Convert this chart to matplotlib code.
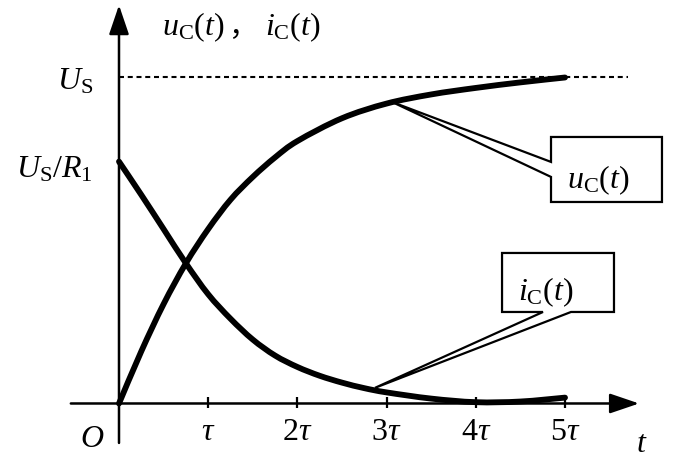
import numpy as np
import matplotlib
matplotlib.use("Agg")
import matplotlib.pyplot as plt
from matplotlib.patches import Polygon, PathPatch
from matplotlib.path import Path

plt.rcParams['font.family'] = ['Liberation Serif', 'Noto Sans CJK SC']
plt.rcParams['mathtext.fontset'] = 'custom'
plt.rcParams['mathtext.rm'] = 'Liberation Serif'
plt.rcParams['mathtext.it'] = 'Liberation Serif:italic'
plt.rcParams['mathtext.bf'] = 'Liberation Serif:bold'

# values (t in units of tau, y in units of U_S)
t_uc = [0, 0.25, 0.5, 0.75, 1.0, 1.25, 1.5, 1.75, 2.0, 2.5, 3.0, 3.5, 4.0, 4.5, 5.0]
uc = [0, 0.16, 0.305, 0.43, 0.535, 0.625, 0.695, 0.755, 0.805, 0.875, 0.92, 0.948,
      0.968, 0.985, 1.0]

t_ic = [0, 0.25, 0.5, 0.75, 1.0, 1.25, 1.5, 1.75, 2.0, 2.25, 2.5, 2.75, 3.0, 3.5,
        4.0, 4.5, 5.0]
ic = [0.742, 0.64, 0.535, 0.43, 0.335, 0.26, 0.196, 0.147, 0.112, 0.085, 0.064,
      0.047, 0.034, 0.015, 0.004, 0.006, 0.018]

tick_pos = [1, 2, 3, 4, 5]
tick_labels = [r'$\tau$', r'$2\tau$', r'$3\tau$', r'$4\tau$', r'$5\tau$']

fs = 23


def smooth_path(xs, ys):
    # Catmull-Rom through the read points, drawn as cubic Bezier segments
    p = np.column_stack([xs, ys]).astype(float)
    verts = [p[0]]
    codes = [Path.MOVETO]
    n = len(p)
    for i in range(n - 1):
        p0 = p[i - 1] if i > 0 else p[i]
        p3 = p[i + 2] if i + 2 < n else p[i + 1]
        c1 = p[i] + (p[i + 1] - p0) / 6
        c2 = p[i + 1] - (p3 - p[i]) / 6
        verts += [c1, c2, p[i + 1]]
        codes += [Path.CURVE4] * 3
    return Path(verts, codes)


fig = plt.figure(figsize=(6.75, 4.65), dpi=100)
ax = fig.add_axes([0, 0, 1, 1])
ax.set_xlim(-1.334, 6.233)
ax.set_ylim(-0.1887, 1.2377)
ax.axis('off')

# axes with arrows
arrow = dict(arrowstyle='-|>,head_length=1.0,head_width=0.34', mutation_scale=18,
             lw=1.8, color='black', shrinkA=0, shrinkB=0)
ax.annotate('', xy=(5.83, 0), xytext=(-0.54, 0), arrowprops=arrow)
ax.annotate('', xy=(0, 1.222), xytext=(0, -0.121), arrowprops=arrow)

# ticks and labels
ax.vlines(tick_pos, -0.014, 0.02, color='black', lw=1.6)
for p, lab in zip(tick_pos, tick_labels):
    ax.text(p, -0.112, lab, fontsize=fs, ha='center', va='baseline')
ax.text(-0.30, -0.133, r'$O$', fontsize=fs, ha='center', va='baseline')
ax.text(5.86, -0.149, r'$t$', fontsize=fs, ha='center', va='baseline')

# U_S level
ax.plot([0, 5.71], [1, 1], color='black', lw=1.5, linestyle=(0, (2.4, 1.8)))
ax.text(-0.29, 0.962, r'$U_{\mathrm{S}}$', fontsize=fs, ha='right', va='baseline')
ax.text(-0.29, 0.692, r'$U_{\mathrm{S}}/R_1$', fontsize=fs, ha='right', va='baseline')

# title
ax.text(0.482, 1.13, r'$u_{\mathrm{C}}(t)$', fontsize=fs, ha='left', va='baseline')
ax.text(1.22, 1.13, '，', fontsize=fs - 2, ha='left', va='baseline',
        family=['Noto Sans CJK SC', 'DejaVu Sans'])
ax.text(1.637, 1.13, r'$i_{\mathrm{C}}(t)$', fontsize=fs, ha='left', va='baseline')

# curves
for xs, ys in [(t_uc, uc), (t_ic, ic)]:
    ax.add_patch(PathPatch(smooth_path(xs, ys), facecolor='none', edgecolor='black',
                           lw=4.2, capstyle='round', zorder=2))

# callouts
uc_box = [(4.843, 0.8175), (6.087, 0.8175), (6.087, 0.6181), (4.843, 0.6181),
          (4.843, 0.695), (3.06, 0.925), (4.843, 0.741)]
ax.add_patch(Polygon(uc_box, closed=True, facecolor='white', edgecolor='black',
                     lw=1.6, zorder=3))
ax.text(5.37, 0.661, r'$u_{\mathrm{C}}(t)$', fontsize=fs, ha='center', va='baseline', zorder=4)

ic_box = [(4.294, 0.4617), (5.549, 0.4617), (5.549, 0.2807), (5.067, 0.2807),
          (2.87, 0.048), (4.753, 0.2807), (4.294, 0.2807)]
ax.add_patch(Polygon(ic_box, closed=True, facecolor='white', edgecolor='black',
                     lw=1.6, zorder=3))
ax.text(4.787, 0.317, r'$i_{\mathrm{C}}(t)$', fontsize=fs, ha='center', va='baseline', zorder=4)

fig.savefig('out.png', dpi=100)
